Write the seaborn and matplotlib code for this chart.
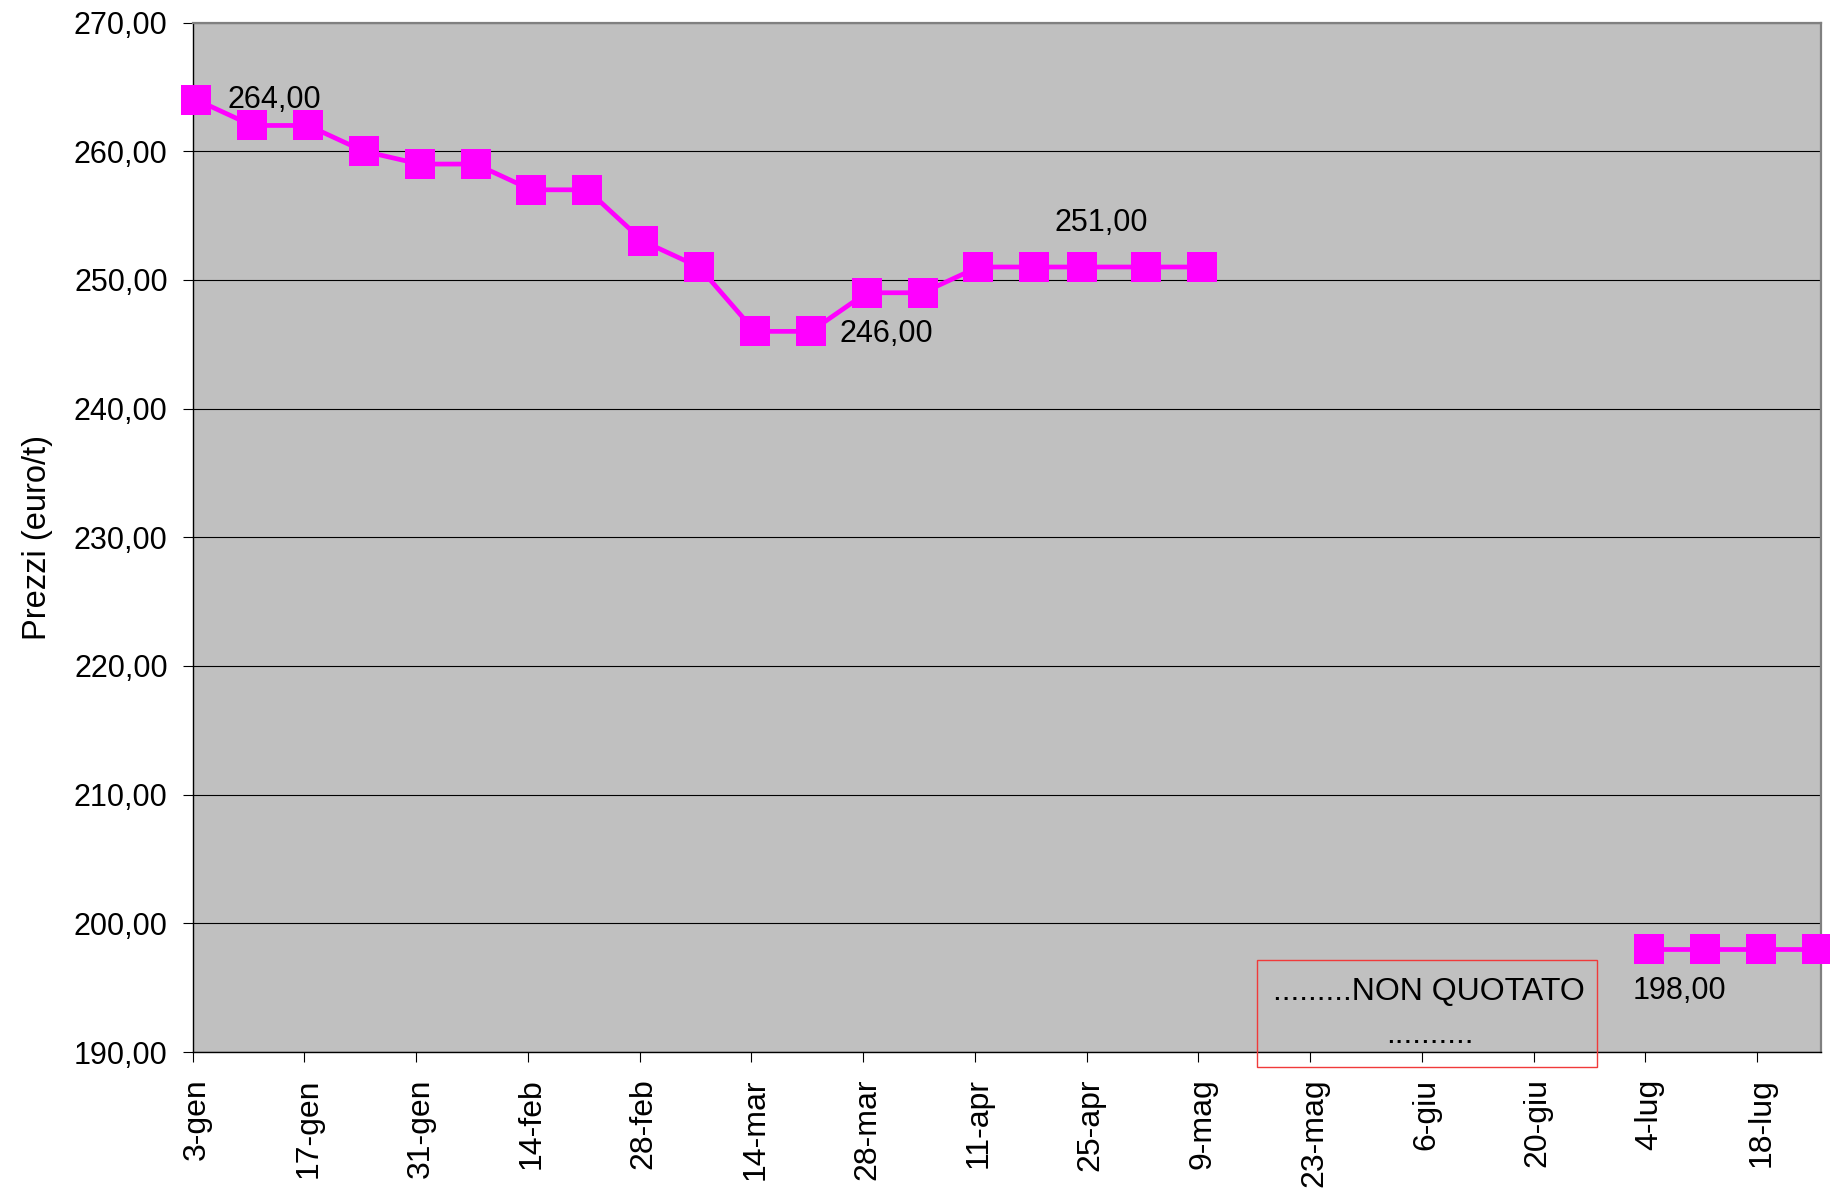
import pandas as pd
import matplotlib
matplotlib.use('Agg')
import matplotlib.pyplot as plt
import matplotlib.transforms as mtransforms
from matplotlib.ticker import FuncFormatter, MultipleLocator
from matplotlib.patches import Rectangle
import seaborn as sns

# weekly quotations (euro/t); no quotation from mid May to end of June
dates = ['2005-01-03', '2005-01-10', '2005-01-17', '2005-01-24', '2005-01-31',
         '2005-02-07', '2005-02-14', '2005-02-21', '2005-02-28', '2005-03-07',
         '2005-03-14', '2005-03-21', '2005-03-28', '2005-04-04', '2005-04-11',
         '2005-04-18', '2005-04-24', '2005-05-02', '2005-05-09',
         '2005-07-04', '2005-07-11', '2005-07-18', '2005-07-25']
prices = [264, 262, 262, 260, 259,
          259, 257, 257, 253, 251,
          246, 246, 249, 249, 251,
          251, 251, 251, 251,
          198, 198, 198, 198]

tick_labels = ['3-gen', '17-gen', '31-gen', '14-feb', '28-feb', '14-mar', '28-mar',
               '11-apr', '25-apr', '9-mag', '23-mag', '6-giu', '20-giu', '4-lug', '18-lug']

# (date, value, text, offset in points, alignment)
labels = [('2005-01-03', 264, '264,00', (25, -6), 'left'),
          ('2005-03-21', 246, '246,00', (23.5, -8), 'left'),
          ('2005-04-24', 251, '251,00', (16, 26), 'center'),
          ('2005-07-04', 198, '198,00', (24.5, -36), 'center')]

df = pd.DataFrame({'data': pd.to_datetime(dates), 'prezzo': prices})
# break the line where quotations are missing
df['tratto'] = (df.data.diff() > pd.Timedelta(days=14)).cumsum()

plt.rcParams['font.family'] = ['Liberation Sans', 'DejaVu Sans']

fig = plt.figure(figsize=(18.3, 11.91), dpi=100)
ax = fig.add_axes([0.1053, 0.1167, 0.8898, 0.8644])
ax.set_facecolor('#C0C0C0')

sns.lineplot(data=df, x='data', y='prezzo', units='tratto', estimator=None,
             color='#FF00FF', linewidth=3.4, marker='s', markersize=21,
             markeredgewidth=0, clip_on=False, ax=ax, zorder=5)

# excel draws the series a few pixels right of the tick
shift = mtransforms.ScaledTranslation(2.5 / 72, 0, fig.dpi_scale_trans)
for ln in ax.lines:
    ln.set_transform(ln.get_transform() + shift)

ax.set_xlim(pd.Timestamp('2005-01-03'), pd.Timestamp('2005-07-26'))
ax.set_ylim(190, 270)
ax.yaxis.set_major_locator(MultipleLocator(10))
ax.yaxis.set_major_formatter(FuncFormatter(lambda v, p: f'{v:.2f}'.replace('.', ',')))
ax.grid(axis='y', color='black', linewidth=0.8)
ax.grid(axis='x', visible=False)
ax.set_axisbelow(True)

tick_pos = pd.date_range('2005-01-03', periods=len(tick_labels), freq='14D')
ax.set_xticks(tick_pos)
ax.set_xticklabels(tick_labels, rotation=90, fontsize=23)
ax.tick_params(axis='x', direction='out', length=7, width=0.8, pad=12)
ax.tick_params(axis='y', direction='out', length=7, width=0.8, pad=11, labelsize=22)
lbl_shift = mtransforms.ScaledTranslation(3 / 72, 0, fig.dpi_scale_trans)
for t in ax.get_xticklabels():
    t.set_transform(t.get_transform() + lbl_shift)

ax.set_xlabel('')
ax.set_ylabel('Prezzi (euro/t)', fontsize=23.5, labelpad=15)

for side in ['left', 'bottom']:
    ax.spines[side].set_color('black')
    ax.spines[side].set_linewidth(1.0)
for side in ['top', 'right']:
    ax.spines[side].set_color('#808080')
    ax.spines[side].set_linewidth(1.6)

for d, v, txt, off, ha in labels:
    ax.annotate(txt, xy=(pd.Timestamp(d), v), xytext=off, textcoords='offset points',
                ha=ha, va='baseline', fontsize=22, zorder=6)

# "non quotato" note box
fig.patches.append(Rectangle((0.6869, 0.1041), 0.1858, 0.0898, transform=fig.transFigure,
                             fill=False, edgecolor='#F03A3A', linewidth=1.0, zorder=10))
fig.text(0.7809, 0.1604, '.........NON QUOTATO', ha='center', va='baseline', fontsize=23)
fig.text(0.7814, 0.1243, '..........', ha='center', va='baseline', fontsize=23)

fig.savefig('out.png', dpi=100)
